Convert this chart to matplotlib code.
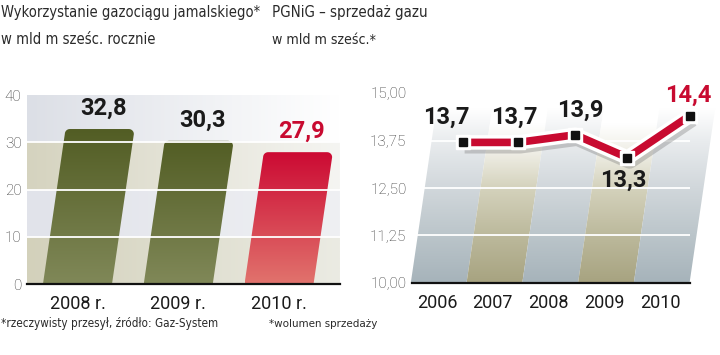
import matplotlib
matplotlib.use('Agg')
import matplotlib.pyplot as plt
import numpy as np
from matplotlib.patches import Polygon
from matplotlib.colors import to_rgb
import matplotlib.patheffects as pe
import matplotlib.font_manager as fm

# ---------------- data ----------------
left_cats = ['2008 r.', '2009 r.', '2010 r.']
left_vals = [32.8, 30.3, 27.9]
left_yticks = [0, 10, 20, 30, 40]

right_cats = ['2006', '2007', '2008', '2009', '2010']
right_vals = [13.7, 13.7, 13.9, 13.3, 14.4]
right_yticks = [10.0, 11.25, 12.5, 13.75, 15.0]

title_left = ['Wykorzystanie gazociągu jamalskiego*', 'w mld m sześc. rocznie']
title_right = ['PGNiG – sprzedaż gazu', 'w mld m sześc.*']
note_left = '*rzeczywisty przesył, źródło: Gaz-System'
note_right = '*wolumen sprzedaży'

# ---------------- setup ----------------
W, H = 720, 355
fig = plt.figure(figsize=(W / 100, H / 100), dpi=100)
fig.patch.set_facecolor('white')

SANS = ['Roboto', 'DejaVu Sans']
RED = '#c80a30'
DARK = '#1a1a1a'

narrow_path = None
for f in fm.fontManager.ttflist:
    nm = (f.name + ' ' + str(f.fname)).lower()
    if ('narrow' in nm or 'condensed' in nm or f.stretch in ('condensed', 'semi-condensed')) \
            and f.weight in (300, 400, 'light', 'normal', 'regular') and f.style == 'normal':
        narrow_path = f.fname
        break


def head_fp(size):
    if narrow_path:
        return fm.FontProperties(fname=narrow_path, size=size)
    return fm.FontProperties(family=SANS, size=size)


def rect(x0, y0, x1, y1):
    return [x0 / W, 1 - y1 / H, (x1 - x0) / W, (y1 - y0) / H]


def fmt(v, d=1):
    return f'{v:.{d}f}'.replace('.', ',')


def hgrad(c0, c1, n=256):
    a, b = np.array(to_rgb(c0)), np.array(to_rgb(c1))
    t = np.linspace(0, 1, n)[None, :, None]
    return a + (b - a) * t


def vgrad_stops(stops, lo, hi, n=256):
    vs = np.linspace(hi, lo, n)
    sv = [s[0] for s in stops]
    cols = np.array([to_rgb(s[1]) for s in stops])
    out = np.stack([np.interp(vs, sv, cols[:, k]) for k in range(3)], axis=-1)
    return out[:, None, :]


# ---------------- left chart ----------------
axL = fig.add_axes(rect(27, 95, 340, 284))
xl = (-0.501, 2.605)
axL.set_xlim(*xl)
axL.set_ylim(0, 40)

band_cols = [('#d3d1bb', '#ebebe3'), ('#e1e3ea', '#eff0f3'),
             ('#d5d3bf', '#f5f5f2'), ('#dcdfe6', '#ffffff')]
for i, (c0, c1) in enumerate(band_cols):
    axL.imshow(hgrad(c0, c1), extent=(xl[0], xl[1], i * 10, i * 10 + 10),
               aspect='auto', zorder=0, interpolation='bilinear')

slantL = 0.00661
half = 0.3425
rx, ry = 5 / 100.75, 5 / 4.725
for i, v in enumerate(left_vals):
    s = slantL * v
    xl0, xr0 = i - half, i + half
    xl1, xr1 = xl0 + s, xr0 + s
    pts = [(xl0, 0), (xr0, 0)]
    t = np.linspace(0, np.pi / 2, 8)
    cx, cy = xr1 - rx, v - ry
    pts += [(cx + rx * np.cos(a), cy + ry * np.sin(a)) for a in t]
    cx, cy = xl1 + rx, v - ry
    pts += [(cx - rx * np.cos(a), cy + ry * np.sin(a)) for a in t[::-1]]
    poly = Polygon(pts, closed=True, facecolor='none', edgecolor='none')
    axL.add_patch(poly)
    if i == len(left_vals) - 1:
        top, bot = '#cc0a33', '#e1736d'
    else:
        top, bot = '#525d24', '#808858'
    im = axL.imshow(vgrad_stops([(0, bot), (v, top)], 0, v),
                    extent=(xl0, xr1, 0, v), aspect='auto', zorder=2,
                    interpolation='bilinear')
    im.set_clip_path(poly)
    col = RED if i == len(left_vals) - 1 else DARK
    axL.annotate(fmt(v), xy=(i + s, v), xytext=(3, 15), textcoords='offset points',
                 ha='center', va='center', fontsize=17, fontweight='bold',
                 family=SANS, color=col, zorder=6)

for y in left_yticks[1:-1]:
    axL.axhline(y, color='white', lw=1.3, zorder=3)

axL.set_xticks(range(len(left_cats)))
axL.set_xticklabels(left_cats, fontsize=13, family=SANS, color=DARK)
axL.set_yticks(left_yticks)
axL.set_yticklabels([str(t) for t in left_yticks], fontsize=11, family=SANS,
                    fontweight='light', color='#333333')
axL.tick_params(axis='x', length=0, pad=8)
axL.tick_params(axis='y', length=0, pad=4)
for sp in ['top', 'right', 'left']:
    axL.spines[sp].set_visible(False)
axL.spines['bottom'].set_linewidth(1.6)
axL.spines['bottom'].set_color('#111111')
axL.spines['bottom'].set_zorder(5)

# ---------------- right chart ----------------
axR = fig.add_axes(rect(412, 93, 690, 283))
xr = (-0.448, 4.538)
axR.set_xlim(*xr)
axR.set_ylim(10, 15)

slantR = 0.1
gray_stops = [(10, '#a6b3ba'), (11.25, '#bbc5ca'), (12.5, '#d1d7db'),
              (13.75, '#e9ecee'), (14.6, '#ffffff'), (15, '#ffffff')]
beige_stops = [(10, '#a7a380'), (11.25, '#bcb99c'), (12.5, '#d4d2bc'),
               (13.4, '#eeede4'), (14.2, '#ffffff'), (15, '#ffffff')]
for k in range(len(right_cats)):
    x0, x1 = k - 0.47, k + 0.53
    pts = [(x0, 10), (x1, 10), (x1 + slantR * 5, 15), (x0 + slantR * 5, 15)]
    poly = Polygon(pts, closed=True, facecolor='none', edgecolor='none')
    axR.add_patch(poly)
    stops = beige_stops if k % 2 == 1 else gray_stops
    im = axR.imshow(vgrad_stops(stops, 10, 15), extent=(x0, x1 + slantR * 5, 10, 15),
                    aspect='auto', zorder=0, interpolation='bilinear')
    im.set_clip_box(fig.bbox)
    im.set_clip_path(poly)

for y in right_yticks[1:-1]:
    axR.axhline(y, color='white', lw=1.3, zorder=1)

xs = [k + 0.07 + 0.105 * (v - 10) for k, v in enumerate(right_vals)]
axR.plot(xs, right_vals, color=RED, lw=5.5, solid_capstyle='butt',
         solid_joinstyle='round', zorder=5, clip_on=False,
         path_effects=[pe.SimpleLineShadow(offset=(1.5, -2), shadow_color='#777777',
                                           alpha=0.35, linewidth=12),
                       pe.Stroke(linewidth=10.5, foreground='white'), pe.Normal()])
axR.plot(xs, right_vals, 's', ms=9.5, color='white', zorder=6, clip_on=False)
axR.plot(xs, right_vals, 's', ms=5.4, color='#111111', zorder=7, clip_on=False)

lab_off = [(-11.5, 18), (-3, 18), (3.5, 18), (-3, -16.5), (-0.7, 14.5)]
for k, v in enumerate(right_vals):
    col = RED if k == len(right_vals) - 1 else DARK
    axR.annotate(fmt(v), xy=(xs[k], v), xytext=lab_off[k], textcoords='offset points',
                 ha='center', va='center', fontsize=17, fontweight='bold',
                 family=SANS, color=col, zorder=8, annotation_clip=False)

axR.set_xticks(range(len(right_cats)))
axR.set_xticklabels(right_cats, fontsize=13, family=SANS, color=DARK)
axR.set_yticks(right_yticks)
axR.set_yticklabels([fmt(t, 2) for t in right_yticks], fontsize=11, family=SANS,
                    fontweight='light', color='#333333')
axR.tick_params(axis='x', length=0, pad=8)
axR.tick_params(axis='y', length=0, pad=4)
for sp in ['top', 'right', 'left']:
    axR.spines[sp].set_visible(False)
axR.spines['bottom'].set_linewidth(1.6)
axR.spines['bottom'].set_color('#111111')
axR.spines['bottom'].set_zorder(5)

# ---------------- titles & notes (sized to the reference widths) ----------------
renderer = fig.canvas.get_renderer()


def fitted_text(x_px, y_px, s, target_w, base=12.5):
    t = fig.text(x_px / W, 1 - y_px / H, s, fontproperties=head_fp(base),
                 color='#2a2a2a', va='baseline', ha='left')
    w = t.get_window_extent(renderer).width
    t.set_fontproperties(head_fp(base * target_w / w))
    return t


fitted_text(1, 17, title_left[0], 258)
fitted_text(1, 44, title_left[1], 154)
fitted_text(272, 17, title_right[0], 156)
fitted_text(272, 44, title_right[1], 104)
fitted_text(1, 327, note_left, 215, base=10)
fitted_text(269, 327, note_right, 108, base=10)

fig.savefig('out.png', dpi=100, facecolor='white')
